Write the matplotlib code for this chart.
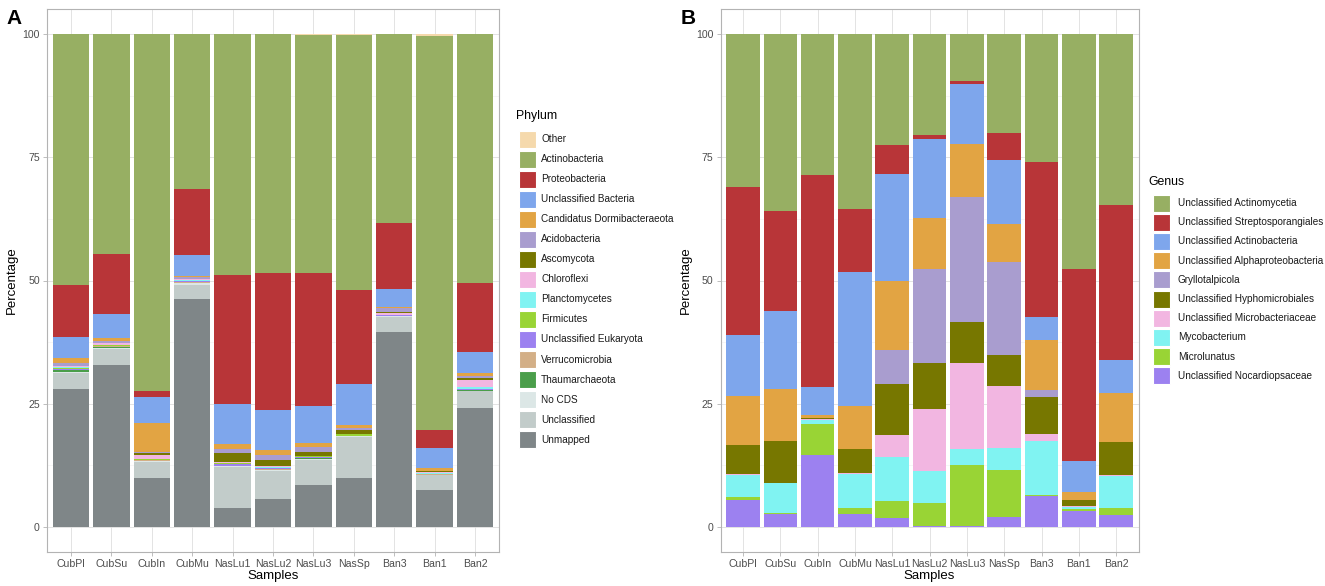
import matplotlib
matplotlib.use("Agg")
import matplotlib.pyplot as plt
from matplotlib.patches import Rectangle
import numpy as np

plt.rcParams['font.family'] = ['Liberation Sans', 'DejaVu Sans']

samples = ["CubPl", "CubSu", "CubIn", "CubMu", "NasLu1", "NasLu2", "NasLu3",
           "NasSp", "Ban3", "Ban1", "Ban2"]

# ---------------- Panel A : Phylum (values in %, per sample in the order above)
phyla = ["Other", "Actinobacteria", "Proteobacteria", "Unclassified Bacteria",
         "Candidatus Dormibacteraeota", "Acidobacteria", "Ascomycota", "Chloroflexi",
         "Planctomycetes", "Firmicutes", "Unclassified Eukaryota", "Verrucomicrobia",
         "Thaumarchaeota", "No CDS", "Unclassified", "Unmapped"]
phylum_colors = ["#F5D9AC", "#97AF63", "#B83538", "#7EA6EC", "#E2A443", "#A99DCF",
                 "#777700", "#F2B6E1", "#80F3F2", "#99D435", "#9C81F0", "#D3AF87",
                 "#4A9E4A", "#DCE7E6", "#C2CCCA", "#7F8688"]

other          = [0.0, 0.0, 0.0, 0.0, 0.0, 0.0, 0.1, 0.2, 0.0, 0.4, 0.0]
actinobacteria = [51.0, 44.7, 72.4, 31.4, 48.9, 48.4, 48.3, 51.8, 38.4, 79.9, 50.5]
proteobacteria = [10.5, 12.1, 1.3, 13.4, 26.2, 27.9, 27.0, 19.0, 13.3, 3.6, 14.0]
uncl_bacteria  = [4.3, 4.8, 5.3, 4.2, 8.1, 8.1, 7.6, 8.4, 3.6, 4.2, 4.3]
candidatus     = [1.0, 0.6, 5.8, 0.3, 1.0, 1.0, 0.8, 0.6, 0.3, 0.5, 0.5]
acidobacteria  = [0.5, 0.4, 0.2, 0.3, 0.7, 1.0, 0.9, 0.3, 0.8, 0.1, 0.4]
ascomycota     = [0.1, 0.1, 0.5, 0.1, 1.9, 1.2, 0.9, 0.8, 0.1, 0.1, 0.4]
chloroflexi    = [0.2, 0.3, 0.7, 0.3, 0.2, 0.3, 0.1, 0.1, 0.5, 0.3, 1.6]
planctomycetes = [0.1, 0.1, 0.1, 0.1, 0.1, 0.1, 0.0, 0.0, 0.1, 0.1, 0.3]
firmicutes     = [0.2, 0.1, 0.1, 0.1, 0.1, 0.1, 0.2, 0.3, 0.0, 0.0, 0.1]
uncl_eukaryota = [0.2, 0.1, 0.1, 0.1, 0.4, 0.2, 0.1, 0.0, 0.1, 0.1, 0.1]
verrucomicrobia= [0.1, 0.1, 0.1, 0.2, 0.1, 0.1, 0.1, 0.0, 0.1, 0.1, 0.1]
thaumarchaeota = [0.3, 0.3, 0.0, 0.1, 0.0, 0.1, 0.2, 0.1, 0.0, 0.0, 0.1]
no_cds         = [0.2, 0.1, 0.2, 0.3, 0.1, 0.1, 0.1, 0.1, 0.1, 0.1, 0.1]
unclassified   = [3.3, 3.4, 3.3, 2.9, 8.4, 5.8, 5.1, 8.4, 3.1, 3.0, 3.3]
unmapped       = [28.0, 32.8, 9.9, 46.2, 3.8, 5.6, 8.5, 9.9, 39.5, 7.5, 24.2]

phylum_values = [other, actinobacteria, proteobacteria, uncl_bacteria, candidatus,
                 acidobacteria, ascomycota, chloroflexi, planctomycetes, firmicutes,
                 uncl_eukaryota, verrucomicrobia, thaumarchaeota, no_cds,
                 unclassified, unmapped]

# ---------------- Panel B : Genus
genera = ["Unclassified Actinomycetia", "Unclassified Streptosporangiales",
          "Unclassified Actinobacteria", "Unclassified Alphaproteobacteria",
          "Gryllotalpicola", "Unclassified Hyphomicrobiales",
          "Unclassified Microbacteriaceae", "Mycobacterium", "Microlunatus",
          "Unclassified Nocardiopsaceae"]
genus_colors = ["#97AF63", "#B83538", "#7EA6EC", "#E2A443", "#A99DCF",
                "#777700", "#F2B6E1", "#80F3F2", "#99D435", "#9C81F0"]

g_actinomycetia = [31.1, 35.9, 28.6, 35.4, 22.5, 20.5, 9.6, 20.0, 25.9, 47.6, 34.7]
g_streptospor   = [30.0, 20.3, 43.1, 12.9, 5.8, 0.7, 0.6, 5.6, 31.5, 39.1, 31.4]
g_actinobact    = [12.4, 15.9, 5.6, 27.1, 21.9, 16.2, 12.2, 12.9, 4.6, 6.2, 6.8]
g_alphaproteo   = [9.8, 10.4, 0.5, 8.7, 13.8, 10.3, 10.6, 7.8, 10.3, 1.6, 9.8]
g_gryllotalpic  = [0.0, 0.1, 0.1, 0.0, 7.0, 19.1, 25.4, 18.9, 1.3, 0.1, 0.0]
g_hyphomicrob   = [6.0, 8.4, 0.2, 5.0, 10.4, 9.3, 8.4, 6.3, 7.6, 1.2, 6.8]
g_microbacter   = [0.2, 0.1, 0.1, 0.1, 4.4, 12.5, 17.4, 12.5, 1.3, 0.2, 0.1]
g_mycobacterium = [4.4, 6.0, 1.0, 6.9, 9.0, 6.6, 3.3, 4.4, 11.1, 0.3, 6.5]
g_microlunatus  = [0.6, 0.2, 6.2, 1.2, 3.3, 4.6, 12.4, 9.5, 0.1, 0.5, 1.4]
g_nocardiops    = [5.5, 2.7, 14.6, 2.7, 1.9, 0.2, 0.1, 2.1, 6.3, 3.2, 2.5]

genus_values = [g_actinomycetia, g_streptospor, g_actinobact, g_alphaproteo,
                g_gryllotalpic, g_hyphomicrob, g_microbacter, g_mycobacterium,
                g_microlunatus, g_nocardiops]

y_ticks = [0, 25, 50, 75, 100]

W, H = 1325, 586
fig = plt.figure(figsize=(W / 100, H / 100), dpi=100)


def fx(px):
    return px / W


def fy(py):
    return 1 - py / H


def stacked_panel(ax, names, colors, values):
    x = np.arange(1, len(samples) + 1)
    bottom = np.zeros(len(samples))
    # stack from the last legend entry (bottom) to the first (top)
    for name, col, vals in reversed(list(zip(names, colors, values))):
        v = np.array(vals, dtype=float)
        ax.bar(x, v, bottom=bottom, width=0.9, color=col, linewidth=0, zorder=3)
        bottom += v
    ax.set_xlim(0.4, len(samples) + 0.6)
    ax.set_ylim(-5, 105)
    ax.set_xticks(x)
    ax.set_xticklabels(samples)
    ax.set_yticks(y_ticks)
    ax.set_yticks([12.5, 37.5, 62.5, 87.5], minor=True)
    ax.grid(which='major', color='#DEDEDE', linewidth=0.6, zorder=0)
    ax.grid(which='minor', axis='y', color='#EFEFEF', linewidth=0.4, zorder=0)
    ax.set_axisbelow(True)
    for s in ax.spines.values():
        s.set_color('#B3B3B3')
        s.set_linewidth(0.8)
    ax.tick_params(axis='both', which='major', labelsize=7.6, labelcolor='#4D4D4D',
                   color='#B3B3B3', length=3, width=0.6, pad=2)
    ax.tick_params(axis='y', which='minor', length=0)
    ax.set_xlabel("Samples", fontsize=9.5, labelpad=1)
    ax.set_ylabel("Percentage", fontsize=9.5, labelpad=3)


def legend(title, names, colors, title_xy, key_x, y0, dy, text_x):
    fig.text(fx(title_xy[0]), fy(title_xy[1]), title, fontsize=8.8,
             ha='left', va='center')
    for i, (n, c) in enumerate(zip(names, colors)):
        yc = y0 + dy * i
        fig.patches.append(Rectangle((fx(key_x), fy(yc + 8.5)), fx(17), 17 / H,
                                     transform=fig.transFigure, facecolor=c,
                                     edgecolor='white', linewidth=0.8))
        fig.text(fx(text_x), fy(yc), n, fontsize=7.2, ha='left', va='center',
                 color='#1A1A1A')


axA = fig.add_axes([fx(46.8), fy(551.6), fx(452.4), 542.2 / H])
stacked_panel(axA, phyla, phylum_colors, phylum_values)
axB = fig.add_axes([fx(720.6), fy(551.6), fx(418.0), 542.2 / H])
stacked_panel(axB, genera, genus_colors, genus_values)

legend("Phylum", phyla, phylum_colors, (516, 116), 519, 139, 20.05, 541)
legend("Genus", genera, genus_colors, (1148, 182), 1153, 203, 19.2, 1178)

fig.text(fx(6), fy(18), "A", fontsize=15, fontweight='bold', ha='left', va='center')
fig.text(fx(681), fy(18), "B", fontsize=15, fontweight='bold', ha='left', va='center')

fig.savefig("out.png", dpi=100)
